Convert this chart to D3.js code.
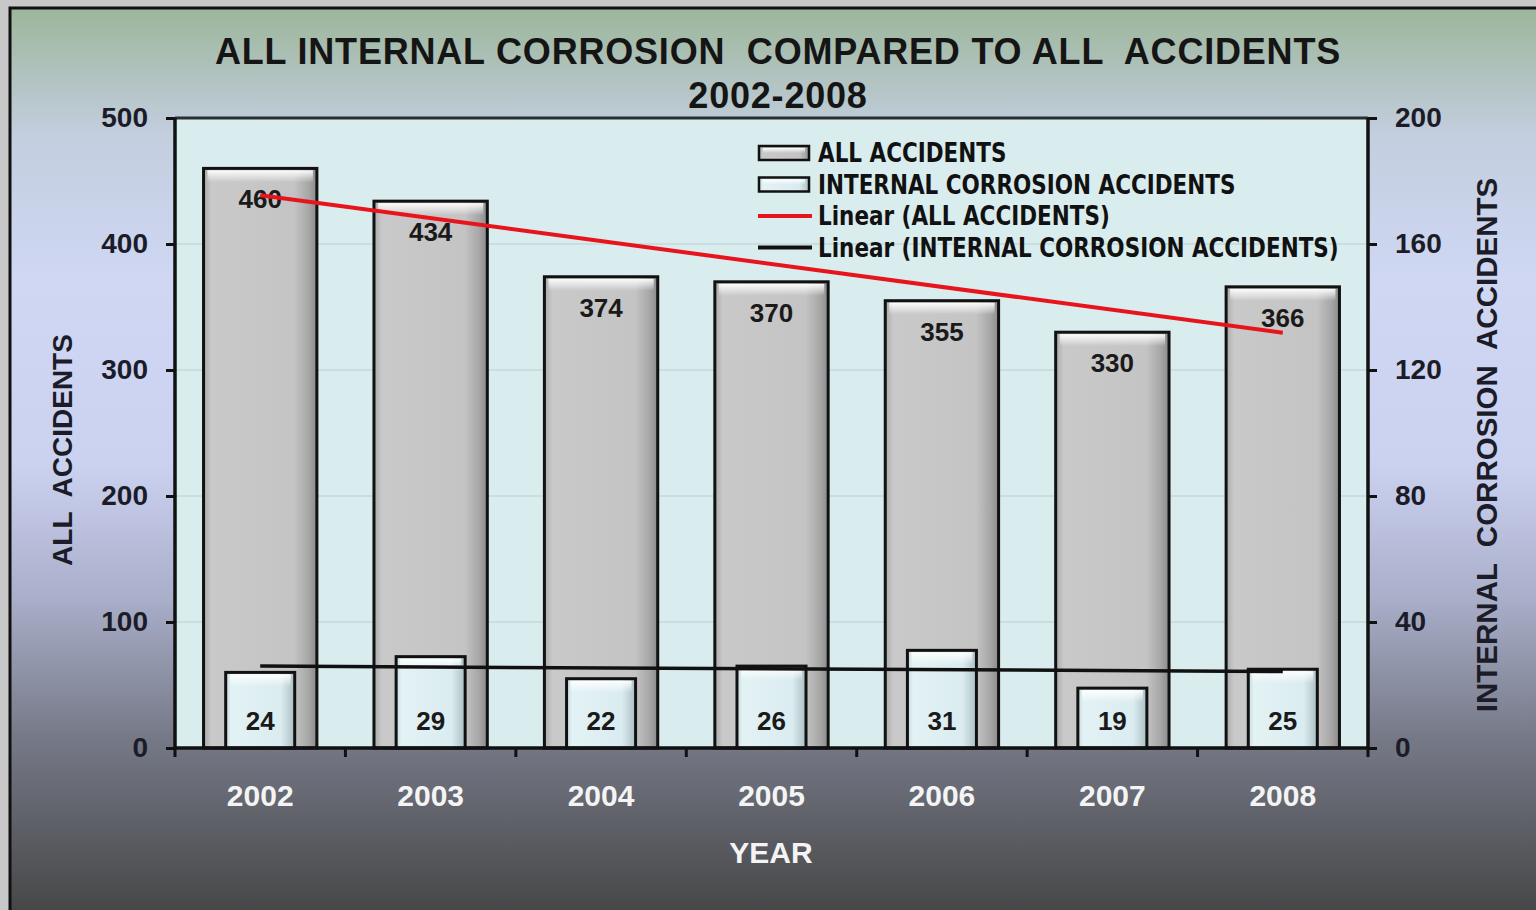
<!DOCTYPE html>
<html lang="en">
  <head>
    <meta charset="UTF-8" />
    <title>Internal corrosion vs all accidents</title>
    <script src="https://d3js.org/d3.v7.min.js"></script>
    <style>
      body { margin: 0; background: #c8c8c8; }
      text { font-family: "Liberation Sans", Arial, sans-serif; font-weight: bold; white-space: pre; }
      .narrow { font-family: "Liberation Sans Narrow", "DejaVu Sans Condensed", "Liberation Sans", sans-serif; }
    </style>
  </head>
  <body>
    <svg width="1536" height="910"></svg>
    <script>
      // data
      let years = ["2002", "2003", "2004", "2005", "2006", "2007", "2008"];
      let allAccidents = [460, 434, 374, 370, 355, 330, 366];
      let corrosionAccidents = [24, 29, 22, 26, 31, 19, 25];
      let leftTicks = [0, 100, 200, 300, 400, 500];
      let rightTicks = [0, 40, 80, 120, 160, 200];
      let legendLabels = [
        "ALL ACCIDENTS",
        "INTERNAL CORROSION ACCIDENTS",
        "Linear (ALL ACCIDENTS)",
        "Linear (INTERNAL CORROSION ACCIDENTS)",
      ];

      let margin = { top: 118, right: 168, bottom: 162, left: 175 },
        width = 1536 - margin.left - margin.right,
        height = 910 - margin.top - margin.bottom;

      let svg = d3.select("svg");
      let defs = svg.append("defs");

      // outer background
      let bg = defs.append("linearGradient").attr("id", "bg").attr("x1", 0).attr("y1", 0).attr("x2", 0).attr("y2", 1);
      [[0, "#9cb69a"], [0.14, "#c3cedf"], [0.3, "#cfd7f3"], [0.5, "#cbd2f0"], [0.65, "#a9aec9"], [0.8, "#767a88"], [1, "#454545"]]
        .forEach(([o, c]) => bg.append("stop").attr("offset", o).attr("stop-color", c));

      let gray = defs.append("linearGradient").attr("id", "grayBar");
      [[0, "#a9a9a9"], [0.07, "#c9c9c9"], [0.8, "#c4c4c4"], [0.93, "#a6a6a6"], [1, "#8a8a8a"]]
        .forEach(([o, c]) => gray.append("stop").attr("offset", o).attr("stop-color", c));
      let cyan = defs.append("linearGradient").attr("id", "cyanBar");
      [[0, "#c6dade"], [0.08, "#e2f2f5"], [0.8, "#dbecf0"], [1, "#abc0c4"]]
        .forEach(([o, c]) => cyan.append("stop").attr("offset", o).attr("stop-color", c));
      let shine = defs.append("linearGradient").attr("id", "shine").attr("x1", 0).attr("y1", 0).attr("x2", 0).attr("y2", 1);
      shine.append("stop").attr("offset", 0).attr("stop-color", "#fff").attr("stop-opacity", 0.95);
      shine.append("stop").attr("offset", 1).attr("stop-color", "#fff").attr("stop-opacity", 0);

      svg.append("rect").attr("x", 10).attr("y", 8).attr("width", 1540).attr("height", 910)
        .attr("fill", "url(#bg)").attr("stroke", "#111").attr("stroke-width", 3);

      let chart = svg.append("g").attr("transform", "translate(" + margin.left + "," + margin.top + ")");

      let x = d3.scaleBand().domain(years).range([0, width]).padding(0);
      let yLeft = d3.scaleLinear().domain([0, 500]).range([height, 0]);
      let yRight = d3.scaleLinear().domain([0, 200]).range([height, 0]);

      // plot area
      chart.append("rect").attr("width", width).attr("height", height).attr("fill", "#d9ecee");
      chart.selectAll(".grid").data(leftTicks.slice(1, -1)).enter().append("line")
        .attr("x1", 0).attr("x2", width)
        .attr("y1", (d) => yLeft(d)).attr("y2", (d) => yLeft(d))
        .attr("stroke", "#c5d9dc").attr("stroke-width", 1.5);

      function bevelBar(g, cx, y0, w, fillId) {
        g.append("rect").attr("x", cx - w / 2).attr("y", y0).attr("width", w).attr("height", height - y0)
          .attr("fill", "url(#" + fillId + ")");
        g.append("rect").attr("x", cx - w / 2 + 4).attr("y", y0 + 2).attr("width", w - 8).attr("height", 12)
          .attr("fill", "url(#shine)");
        g.append("rect").attr("x", cx - w / 2).attr("y", y0).attr("width", w).attr("height", height - y0)
          .attr("fill", "none").attr("stroke", "#111").attr("stroke-width", 3);
      }

      let bigW = x.bandwidth() * 0.665;
      let smallW = x.bandwidth() * 0.405;
      let cx = (d) => x(d) + x.bandwidth() / 2;

      let bars = chart.append("g");
      years.forEach((yr, i) => bevelBar(bars, cx(yr), yLeft(allAccidents[i]), bigW, "grayBar"));
      years.forEach((yr, i) => bevelBar(bars, cx(yr), yRight(corrosionAccidents[i]), smallW, "cyanBar"));

      chart.selectAll(".lblAll").data(allAccidents).enter().append("text")
        .attr("x", (d, i) => cx(years[i])).attr("y", (d) => yLeft(d) + 40)
        .attr("text-anchor", "middle").attr("font-size", 26).attr("fill", "#1a1a1a")
        .text((d) => d);
      chart.selectAll(".lblIc").data(corrosionAccidents).enter().append("text")
        .attr("x", (d, i) => cx(years[i])).attr("y", height - 18)
        .attr("text-anchor", "middle").attr("font-size", 26).attr("fill", "#1a1a1a")
        .text((d) => d);

      // linear trend lines (least squares)
      function trend(vals) {
        let n = vals.length, mx = (n - 1) / 2, my = d3.mean(vals);
        let num = d3.sum(vals, (v, i) => (i - mx) * (v - my));
        let den = d3.sum(vals, (v, i) => (i - mx) * (i - mx));
        let b = num / den;
        return [my - b * mx, my + b * (n - 1 - mx)];
      }
      let tAll = trend(allAccidents), tIc = trend(corrosionAccidents);
      let first = years[0], last = years[years.length - 1];
      chart.append("line").attr("x1", cx(first)).attr("x2", cx(last))
        .attr("y1", yRight(tIc[0])).attr("y2", yRight(tIc[1]))
        .attr("stroke", "#111").attr("stroke-width", 3.5);
      chart.append("line").attr("x1", cx(first)).attr("x2", cx(last))
        .attr("y1", yLeft(tAll[0])).attr("y2", yLeft(tAll[1]))
        .attr("stroke", "#e8141c").attr("stroke-width", 4);

      // plot frame
      chart.append("line").attr("x1", 0).attr("x2", width).attr("y1", 0).attr("y2", 0)
        .attr("stroke", "#2a2f33").attr("stroke-width", 3);
      chart.append("path").attr("d", "M0,0V" + height + "H" + width + "V0")
        .attr("fill", "none").attr("stroke", "#111").attr("stroke-width", 3.5);

      // axes
      let axL = chart.append("g").call(d3.axisLeft(yLeft).tickValues(leftTicks).tickSize(9).tickPadding(18));
      let axR = chart.append("g").attr("transform", "translate(" + width + ",0)")
        .call(d3.axisRight(yRight).tickValues(rightTicks).tickSize(9).tickPadding(18));
      [axL, axR].forEach((a) => {
        a.select(".domain").remove();
        a.selectAll("line").attr("stroke", "#111").attr("stroke-width", 3);
        a.selectAll("text").attr("font-size", 28).attr("fill", "#1c1c28")
          .attr("font-family", "'Liberation Sans', Arial, sans-serif").attr("font-weight", "bold");
      });
      let xTicks = d3.range(years.length + 1).map((i) => i * x.step());
      chart.selectAll(".xt").data(xTicks).enter().append("line")
        .attr("x1", (d) => d).attr("x2", (d) => d).attr("y1", height).attr("y2", height + 9)
        .attr("stroke", "#111").attr("stroke-width", 3);
      chart.selectAll(".xl").data(years).enter().append("text")
        .attr("x", (d) => cx(d)).attr("y", height + 58)
        .attr("text-anchor", "middle").attr("font-size", 30).attr("fill", "#f4f4f4").text((d) => d);

      // titles
      svg.append("text").attr("x", 778).attr("y", 64).attr("text-anchor", "middle")
        .attr("font-size", 36).attr("letter-spacing", 0.8).attr("fill", "#151515")
        .text("ALL INTERNAL CORROSION  COMPARED TO ALL  ACCIDENTS");
      svg.append("text").attr("x", 778).attr("y", 108).attr("text-anchor", "middle")
        .attr("font-size", 36).attr("letter-spacing", 0.8).attr("fill", "#151515").text("2002-2008");
      svg.append("text").attr("x", 771).attr("y", 863).attr("text-anchor", "middle")
        .attr("font-size", 30).attr("fill", "#f4f4f4").text("YEAR");
      svg.append("text").attr("transform", "translate(72,450) rotate(-90)").attr("text-anchor", "middle")
        .attr("font-size", 28).attr("fill", "#1c1c28").text("ALL  ACCIDENTS");
      svg.append("text").attr("transform", "translate(1497,445) rotate(-90)").attr("text-anchor", "middle")
        .attr("font-size", 29.5).attr("fill", "#1c1c28").text("INTERNAL  CORROSION  ACCIDENTS");

      // legend
      let legend = svg.append("g").attr("transform", "translate(758,153)");
      legendLabels.forEach((lab, i) => {
        let row = legend.append("g").attr("transform", "translate(0," + i * 31.5 + ")");
        if (i < 2) {
          row.append("rect").attr("x", 1).attr("y", -7).attr("width", 50).attr("height", 14)
            .attr("fill", i === 0 ? "url(#grayBar)" : "url(#cyanBar)").attr("stroke", "#111").attr("stroke-width", 2.5);
          row.append("rect").attr("x", 5).attr("y", -5).attr("width", 42).attr("height", 5).attr("fill", "url(#shine)");
        } else {
          row.append("line").attr("x1", 0).attr("x2", 54).attr("y1", 0).attr("y2", 0)
            .attr("stroke", i === 2 ? "#e8141c" : "#111").attr("stroke-width", 4);
        }
        row.append("text").attr("class", "narrow")
          .attr("transform", "translate(60,9) scale(0.92,1)")
          .attr("font-size", 26).attr("fill", "#111").text(lab);
      });
    </script>
  </body>
</html>
